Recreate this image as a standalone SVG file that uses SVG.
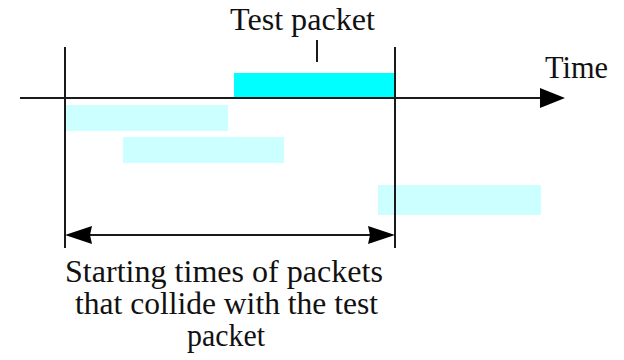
<svg xmlns="http://www.w3.org/2000/svg" width="624" height="360" viewBox="0 0 624 360">
  <style>
    .line { stroke: #1a1a1a; stroke-width: 2; fill: none; }
    .head { fill: #000; stroke: none; }
    .label { font-family: "Liberation Serif", "Times New Roman", serif; font-size: 31px; fill: #111; }
    .test { fill: #00FFFF; }
    .other { fill: #CCFFFF; }
  </style>
  <rect width="624" height="360" fill="#ffffff"/>

  <!-- packets -->
  <g id="packet-a"><rect class="other" x="66" y="105" width="162" height="26"/></g>
  <g id="packet-b"><rect class="other" x="123" y="137" width="161" height="26"/></g>
  <g id="packet-c"><rect class="other" x="378" y="185" width="163" height="30"/></g>
  <g id="test-packet">
    <rect class="test" x="234" y="73" width="161" height="25"/>
    <text class="label" x="230" y="30" textLength="145" lengthAdjust="spacingAndGlyphs">Test packet</text>
  </g>

  <!-- time axis and interval bounds -->
  <g id="connectors">
    <line class="line" x1="20" y1="98" x2="548" y2="98"/>
    <polygon class="head" points="565,98 540,88 540,108"/>
    <line class="line" x1="65" y1="47" x2="65" y2="248"/>
    <line class="line" x1="395" y1="47" x2="395" y2="248"/>
    <line class="line" x1="317" y1="40" x2="317" y2="62"/>
    <line class="line" x1="80" y1="235" x2="380" y2="235"/>
    <polygon class="head" points="65,235 92,226 90,235 92,244"/>
    <polygon class="head" points="395,235 368,226 370,235 368,244"/>
  </g>

  <g id="time-label">
    <text class="label" x="545" y="78" textLength="63" lengthAdjust="spacingAndGlyphs">Time</text>
  </g>

  <g id="interval-label">
    <text class="label" x="65" y="282" textLength="318" lengthAdjust="spacingAndGlyphs">Starting times of packets</text>
    <text class="label" x="75" y="314" textLength="303" lengthAdjust="spacingAndGlyphs">that collide with the test</text>
    <text class="label" x="187" y="346" textLength="78" lengthAdjust="spacingAndGlyphs">packet</text>
  </g>
</svg>
